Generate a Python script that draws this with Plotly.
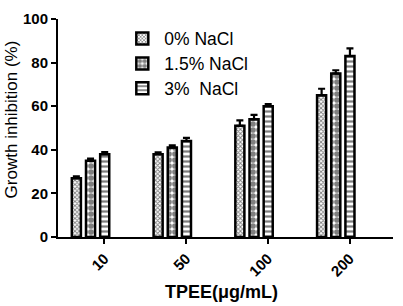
import plotly.graph_objects as go

categories = ["10", "50", "100", "200"]
series_names = ["0% NaCl", "1.5% NaCl", "3%  NaCl"]
values_0 = [27, 38, 51, 65]
values_15 = [35, 41, 54, 75]
values_3 = [38, 44, 60, 83]
err_0 = [0.8, 0.8, 2.5, 3.0]
err_15 = [1.0, 1.0, 2.0, 1.5]
err_3 = [1.0, 1.5, 1.0, 3.5]
y_ticks = [0, 20, 40, 60, 80, 100]
x_title = "TPEE(μg/mL)"
y_title = "Growth inhibition (%)"

pos = list(range(len(categories)))
patterns = [dict(shape="x", size=3, solidity=0.5),
            dict(shape=".", size=6, solidity=0.7),
            dict(shape="-", size=5, solidity=0.45)]
legend_ids = ["legend", "legend2", "legend3"]
legend_y = [0.910, 0.795, 0.682]

fnt = "Liberation Sans, Arial, sans-serif"

fig = go.Figure()
for name, vals, errs, pat, lid in zip(series_names, [values_0, values_15, values_3],
                                      [err_0, err_15, err_3], patterns, legend_ids):
    fig.add_trace(go.Bar(
        x=pos, y=vals, name=name, legend=lid,
        marker=dict(color="white",
                    line=dict(color="black", width=2.5),
                    pattern=dict(shape=pat["shape"], size=pat["size"], solidity=pat["solidity"],
                                 fgcolor="black", bgcolor="white", fillmode="overlay")),
        error_y=dict(type="data", array=errs, arrayminus=[0]*len(errs), symmetric=False,
                     color="black", thickness=2.2, width=3.5),
    ))

leg_common = dict(x=0.186, xanchor="left", yanchor="middle",
                  font=dict(size=17.5, family=fnt, color="black"),
                  bgcolor="rgba(0,0,0,0)", itemwidth=34, borderwidth=0)

fig.update_layout(
    width=403, height=306,
    margin=dict(l=58, r=10, t=15, b=69),
    paper_bgcolor="white", plot_bgcolor="white",
    barmode="group", bargap=0.48, bargroupgap=0.36,
    font=dict(family=fnt, color="black"),
    showlegend=True,
    legend=dict(y=legend_y[0], **leg_common),
    legend2=dict(y=legend_y[1], **leg_common),
    legend3=dict(y=legend_y[2], **leg_common),
    xaxis=dict(range=[-0.398, 3.70], tickmode="array",
               tickvals=[p + 0.17 for p in pos], ticktext=categories,
               tickangle=-45, ticks="outside", ticklen=5, tickwidth=2, tickcolor="black",
               showline=True, linecolor="black", linewidth=2, showgrid=False, zeroline=False,
               tickfont=dict(size=15, family=fnt, color="black", weight="bold")),
    yaxis=dict(range=[0, 100], tickmode="array", tickvals=y_ticks,
               ticks="outside", ticklen=5, tickwidth=2, tickcolor="black",
               showline=True, linecolor="black", linewidth=2, showgrid=False, zeroline=False,
               tickfont=dict(size=15, family=fnt, color="black", weight="bold")),
    annotations=[
        dict(text=x_title, xref="paper", yref="paper", x=0.487, y=-0.252,
             xanchor="center", yanchor="middle", showarrow=False,
             font=dict(size=18, family=fnt, color="black", weight="bold")),
        dict(text=y_title, xref="paper", yref="paper", x=-0.140, y=0.54,
             xanchor="center", yanchor="middle", showarrow=False, textangle=-90,
             font=dict(size=17, family=fnt, color="black")),
    ],
)

fig.write_html("out.html", config={"displayModeBar": False},
               post_script="document.body.style.margin='0px';document.body.style.overflow='hidden';")
